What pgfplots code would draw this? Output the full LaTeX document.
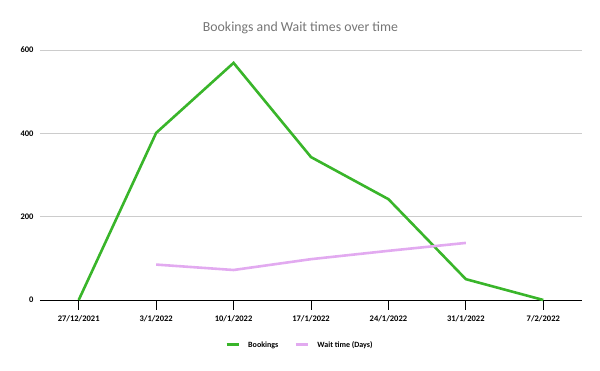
\documentclass[border=0pt]{standalone}
\usepackage{fontspec}
\setmainfont{Carlito}
\usepackage{pgfplots}
\pgfplotsset{compat=1.18}
\definecolor{bookgreen}{RGB}{57,181,42}
\definecolor{waitlav}{RGB}{226,170,240}
\definecolor{titlegray}{RGB}{117,117,117}
\begin{document}
\begin{tikzpicture}[x=1pt,y=1pt]
\useasboundingbox (0,0) rectangle (600,371);
\begin{axis}[
  at={(40pt,71pt)}, anchor=south west,
  scale only axis, width=542pt, height=250pt,
  xmin=-0.5, xmax=6.5, ymin=0, ymax=600,
  axis x line*=bottom,
  axis y line*=left,
  x axis line style={black,-, line width=0.8pt},
  y axis line style={draw=none},
  xtick={0,...,6},
  xticklabels={27/12/2021,3/1/2022,10/1/2022,17/1/2022,24/1/2022,31/1/2022,7/2/2022},
  ytick={0,200,400,600},
  ymajorgrids,
  grid style={gray!40, line width=0.8pt},
  tick align=outside,
  xtick style={black, line width=0.8pt},
  ytick style={draw=none},
  x tick label style={font=\fontsize{8.5}{10}\selectfont\bfseries, yshift=-2pt},
  yticklabel style={font=\fontsize{8.5}{10}\selectfont\bfseries, anchor=east},
  yticklabel shift=-7pt,
  major tick length=10pt,
  /pgf/number format/assume math mode=true,
  title={Bookings and Wait times over time},
  title style={font=\fontsize{13.8}{16}\selectfont, text=titlegray, at={(axis description cs:0.4806,1)}, anchor=center, yshift=16pt},
  legend style={at={(axis description cs:0.4796,0)}, anchor=center, yshift=-45pt, draw=none, font=\fontsize{8}{10}\selectfont\bfseries, legend columns=2,
    /tikz/every odd column/.append style={column sep=6pt},
    /tikz/every even column/.append style={column sep=14pt}},
  legend image code/.code={\draw[#1, line width=3pt] (0pt,0pt) -- (12pt,0pt);},
  clip=false,
]
\addplot[bookgreen, line width=2.6pt, line join=miter] coordinates {(0,0) (1,401) (2,569) (3,343) (4,242) (5,50) (6,0)};
\addlegendentry{Bookings}
\addplot[waitlav, line width=2.6pt] coordinates {(1,85) (2,72) (3,98) (4,118) (5,137)};
\addlegendentry{Wait time (Days)}
\end{axis}
\end{tikzpicture}
\end{document}
